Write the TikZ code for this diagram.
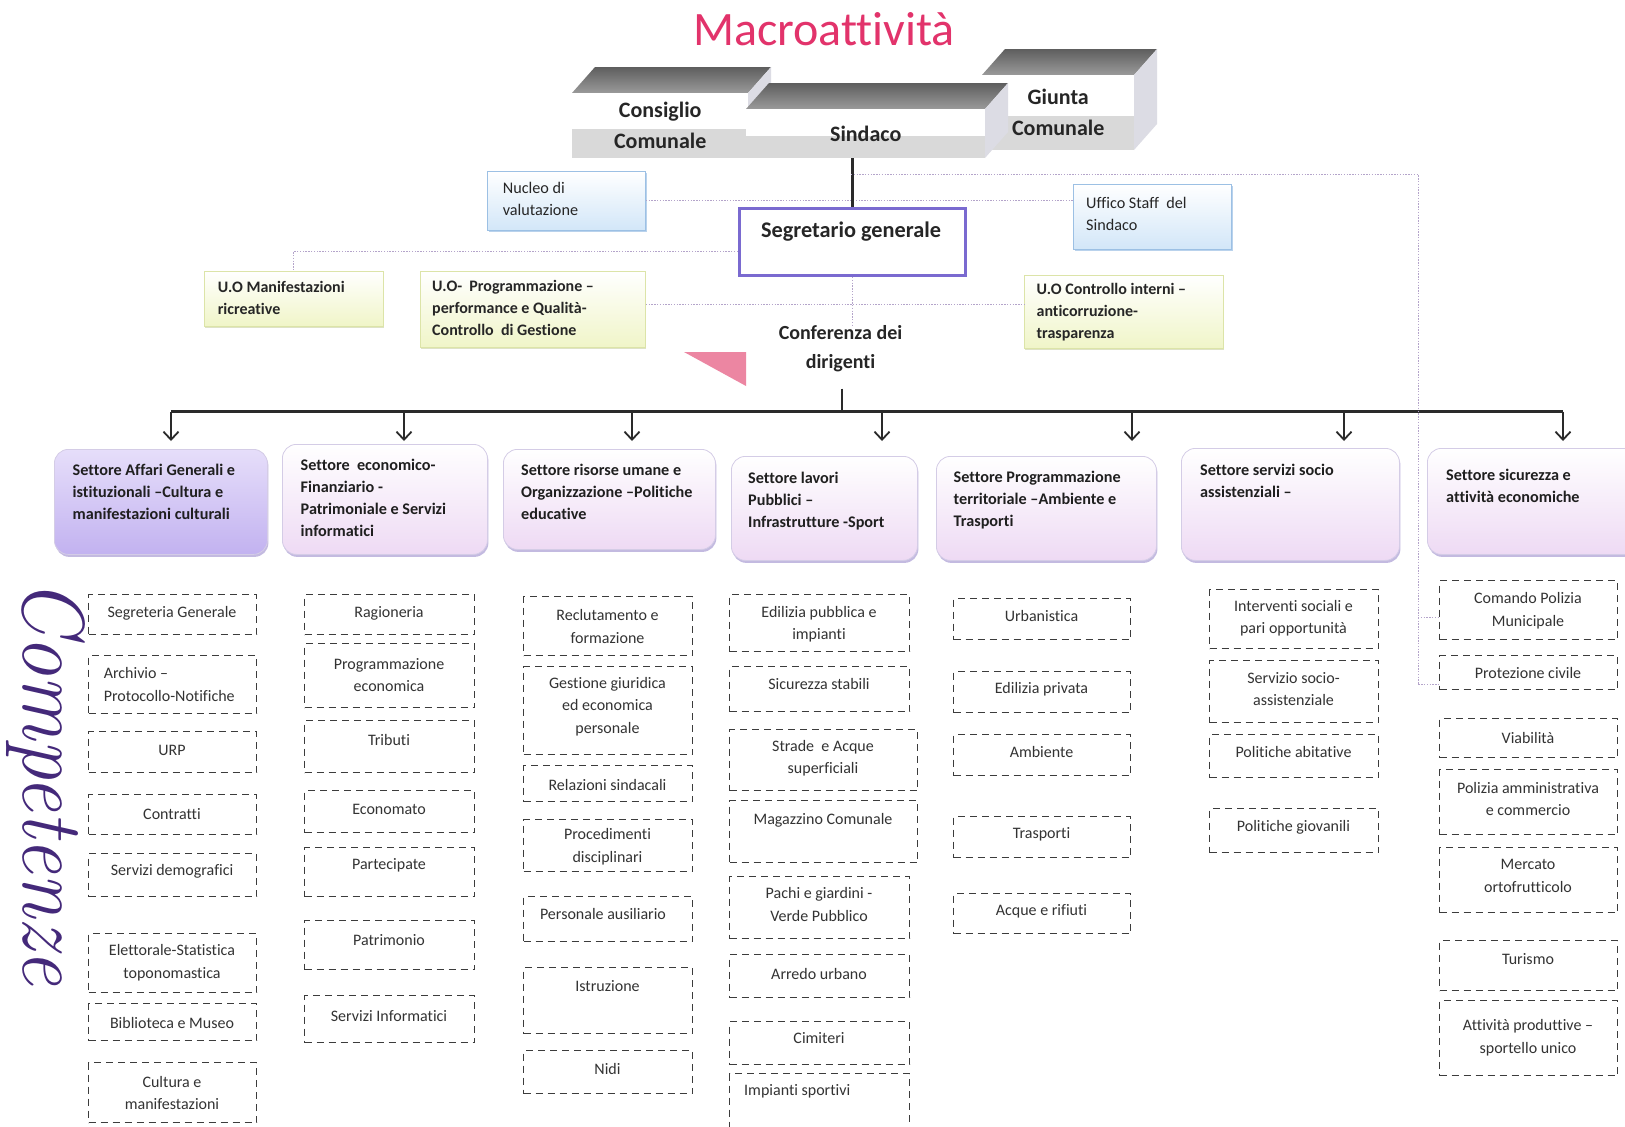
\documentclass[tikz,border=0pt]{standalone}
\usepackage{fontspec}
\newfontfamily\carlito[Ligatures={NoCommon}]{Carlito}
\usetikzlibrary{arrows.meta,shadows}
\definecolor{titlecol}{HTML}{E2336B}
\definecolor{dashgray}{HTML}{3C3C3C}
\definecolor{textgray}{HTML}{333333}
\definecolor{setborder}{HTML}{D4CCE6}
\definecolor{setpink}{HTML}{EEDAF4}
\definecolor{setonetop}{HTML}{E6DEFA}
\definecolor{setonebot}{HTML}{C2B2F0}
\definecolor{setshadow}{HTML}{9C8CCC}
\definecolor{nucbot}{HTML}{D2E6F8}
\definecolor{nucborder}{HTML}{9CC0E4}
\definecolor{uobot}{HTML}{F0F5C8}
\definecolor{uoborder}{HTML}{DCE4A8}
\definecolor{segcol}{HTML}{7A6AD0}
\definecolor{dotcol}{HTML}{B4A4CA}
\definecolor{compcol}{HTML}{44297A}
\definecolor{topdark}{HTML}{5E5E5E}
\definecolor{toplight}{HTML}{9A9A9A}
\definecolor{sidegray}{HTML}{DCDCE4}
\definecolor{frontgray}{HTML}{D9D9D9}
\definecolor{wedge}{HTML}{EC86A2}
\definecolor{linecol}{HTML}{2A2A2A}

\newcommand\Dbox[9][]{%
  \node[dbox, minimum width={#5-#3}, minimum height={#6-#4}] (#2) at (#3,#4) {};
  \node[dtext,#1] (#2t) at (#7,#8) {#9};}
\newcommand\Sbox[9]{%
  \node[settbox,#6, minimum width={#4-#2}, minimum height={#5-#3}] (#1) at (#2,#3) {};
  \node[setttext] (#1t) at (#7,#8) {#9};}
\newcommand\Tbox[6]{%
  \shade[top color=topdark, bottom color=toplight] (#2,#3) -- ({#2+23},{#3-26}) -- ({#4+23},{#3-26}) -- (#4,#3) -- cycle;
  \fill[sidegray] (#4,#3) -- ({#4+23},{#3-26}) -- ({#4+23},{#5-26}) -- (#4,#5) -- cycle;
  \fill[white] (#2,#3) rectangle (#4,#5);
  \fill[frontgray] (#2,{#3+0.55*(#5-#3)}) rectangle (#4,#5);
  \node[tbox, minimum width={#4-#2}, minimum height={#5-#3}] (#1) at (#2,#3) {#6};}

\begin{document}
\begin{tikzpicture}[x=1pt,y=-1pt,
  dbox/.style={draw=dashgray, dash pattern=on 7pt off 5pt, line width=1.3pt, inner sep=0pt, anchor=north west},
  dtext/.style={font=\carlito\fontsize{16}{22.5}\selectfont, text=textgray, align=center, inner sep=0pt},
  settbox/.style={rounded corners=14pt, draw=setborder, line width=0.8pt, inner sep=0pt, anchor=north west,
     drop shadow={shadow xshift=1pt, shadow yshift=-2.5pt, fill=setshadow, opacity=0.6}},
  setplain/.style={top color=white, bottom color=setpink},
  setone/.style={top color=setonetop, bottom color=setonebot},
  setttext/.style={font=\carlito\bfseries\fontsize{16.2}{22}\selectfont, align=left, anchor=north west, inner sep=0pt, text=black!88},
  tbox/.style={inner sep=0pt, anchor=north west, align=center, font=\carlito\bfseries\fontsize{22}{31}\selectfont, text=black!85},
  nucbox/.style={draw=nucborder, line width=0.8pt, top color=white, bottom color=nucbot, anchor=north west, inner sep=0pt,
     drop shadow={shadow xshift=1.5pt, shadow yshift=-2pt, fill=nucborder, opacity=0.7}},
  uobox/.style={draw=uoborder, line width=0.8pt, top color=white, bottom color=uobot, anchor=north west, inner sep=0pt,
     drop shadow={shadow xshift=1pt, shadow yshift=-2pt, fill=uoborder!80!gray, opacity=0.6}},
  smtext/.style={font=\carlito\fontsize{16.2}{22.5}\selectfont, align=left, anchor=west, inner sep=0pt, text=black!85},
  smbold/.style={smtext, font=\carlito\bfseries\fontsize{16}{22}\selectfont},
  dotl/.style={draw=dotcol, line width=0.9pt, dash pattern=on 1.4pt off 1.4pt},
  bus/.style={draw=linecol, line width=2.2pt},
  arr/.style={draw=linecol, line width=1.8pt, -{Straight Barb[length=8pt,width=15pt]}}
]
\useasboundingbox (0,0) rectangle (1625,1127);
\clip (0,0) rectangle (1625,1127);
\fill[white] (0,0) rectangle (1625,1127);

% title
\node[font=\carlito\fontsize{48}{48}\selectfont, text=titlecol, inner sep=0pt] (title) at (824,29) {Macroattività};

% 3D boxes
\Tbox{cons}{572}{93}{748}{158}{Consiglio\\Comunale}
\Tbox{giun}{982}{75}{1134}{150}{Giunta\\Comunale}
\Tbox{sind}{746}{109}{985}{158}{Sindaco}

% staff boxes
\node[nucbox, minimum width=158, minimum height=59] (nuc) at (487,171) {};
\node[smtext] (nuct) at (502.6,199) {Nucleo di\\valutazione};
\node[nucbox, minimum width=158, minimum height=65] (uff) at (1073,184) {};
\node[smtext] (ufft) at (1086,214) {Uffico Staff\ \ del\\Sindaco};
\node[uobox, minimum width=179, minimum height=55] (uom) at (204,271) {};
\node[smbold] (uomt) at (217.6,298) {U.O Manifestazioni\\ricreative};
\node[uobox, minimum width=225, minimum height=76] (uop) at (420,271) {};
\node[smbold] (uopt) at (432,308) {U.O-\ \ Programmazione –\\performance e Qualità-\\Controllo\ \ di Gestione};
\node[uobox, minimum width=199, minimum height=73] (uoc) at (1024,275) {};
\node[smbold] (uoct) at (1036.4,312) {U.O Controllo interni –\\anticorruzione-\\trasparenza};

% segretario
\node[draw=segcol, line width=3pt, fill=white, minimum width=226, minimum height=67, anchor=north west, inner sep=0pt] (seg) at (738,207) {};
\node[font=\carlito\bfseries\fontsize{22.3}{26}\selectfont, text=black!85, inner sep=0pt] (segt) at (851,232) {Segretario generale};

% conferenza
\fill[wedge] (684,352) -- (746,352) -- (746,386) -- cycle;
\node[font=\carlito\bfseries\fontsize{20}{29}\selectfont, align=center, text=black!85, inner sep=0pt] (conf) at (840.5,348.5) {Conferenza dei\\dirigenti};

% dotted connectors
\coordinate (j1) at (851,174);
\coordinate (k1) at (1418,174);
\draw[dotl] (nuc.east) -- (nuc.east -| uff.west);
\draw[dotl] ([yshift=-9pt]seg.west) -| (uom.north);
\draw[dotl] ([yshift=5pt]uop.east) -- ([yshift=5pt]uop.east -| uoc.west);
\draw[dotl] (seg.south) -- (seg.south |- conf.north);

% main lines
\draw[bus] (seg.north |- sind.south) -- (seg.north);
\coordinate (a1) at (171,411.5);
\coordinate (a2) at (404,411.5);
\coordinate (a3) at (632,411.5);
\coordinate (a4) at (882,411.5);
\coordinate (a5) at (1132,411.5);
\coordinate (a6) at (1344,411.5);
\coordinate (a7) at (1563,411.5);
\coordinate (tip) at (0,441);
\coordinate (cb) at (841.6,388.6);
\draw[bus] (cb) -- (cb |- a1);
\draw[bus] (a1) -- (a7);
\foreach \i in {1,...,7} \draw[arr] (a\i) -- (a\i |- tip);

% settori
\Sbox{s1}{54}{449}{267}{554}{setone}{72.5}{464}{Settore Affari Generali e\\istituzionali –Cultura e\\manifestazioni culturali}
\Sbox{s2}{282}{444}{487}{554}{setplain}{300.5}{459}{Settore\ \ economico-\\Finanziario -\\Patrimoniale e Servizi\\informatici}
\Sbox{s3}{503}{449}{715}{549}{setplain}{521}{463.5}{Settore risorse umane e\\Organizzazione –Politiche\\educative}
\Sbox{s4}{731}{456}{917}{560}{setplain}{748}{472}{Settore lavori\\Pubblici –\\Infrastrutture -Sport}
\Sbox{s5}{936}{456}{1156}{560}{setplain}{953.5}{471}{Settore Programmazione\\territoriale –Ambiente e\\Trasporti}
\Sbox{s6}{1181}{448}{1399}{560}{setplain}{1200}{463.5}{Settore servizi socio\\assistenziali –}
\Sbox{s7}{1427}{448}{1660}{554}{setplain}{1446}{469}{Settore sicurezza e\\attività economiche}

% competenze label
\node[rotate=-90, font=\itshape\fontsize{80}{80}\selectfont, text=compcol, inner sep=0pt] (comp) at (46,782) {\scalebox{1}[1.1]{Competenze}};

% column 1
\Dbox{a1b}{88}{594}{256}{634}{172}{613.5}{Segreteria Generale}
\Dbox[anchor=west, align=left]{a2b}{88}{655}{256}{713}{103.6}{684.5}{Archivio –\\Protocollo-Notifiche}
\Dbox{a3b}{88}{731}{256}{772}{172}{750}{URP}
\Dbox{a4b}{88}{794}{256}{834}{172}{813.6}{Contratti}
\Dbox{a5b}{88}{853}{256}{896}{172}{871.6}{Servizi demografici}
\Dbox{a6b}{88}{933}{256}{992}{172}{962.8}{Elettorale-Statistica\\toponomastica}
\Dbox{a7b}{88}{1003}{256}{1040}{172}{1023}{Biblioteca e Museo}
\Dbox{a8b}{88}{1062}{256}{1122}{172}{1093}{Cultura e\\manifestazioni}

% column 2
\Dbox{b1}{304}{594}{474}{634}{389}{613.5}{Ragioneria}
\Dbox{b2}{304}{643}{474}{707}{389}{675}{Programmazione\\economica}
\Dbox{b3}{304}{720}{474}{772}{389}{740}{Tributi}
\Dbox{b4}{304}{790}{474}{832}{389}{809}{Economato}
\Dbox{b5}{304}{847}{474}{896}{389}{865}{Partecipate}
\Dbox{b6}{304}{920}{474}{969}{389}{940}{Patrimonio}
\Dbox{b7}{304}{995}{474}{1042}{389}{1015.6}{Servizi Informatici}

% column 3
\Dbox{c1}{523}{596}{692}{655}{607.5}{626.5}{Reclutamento e\\formazione}
\Dbox{c2}{523}{666}{692}{754}{607.5}{706.6}{Gestione giuridica\\ed economica\\personale}
\Dbox{c3}{523}{765}{692}{801}{607.5}{784.6}{Relazioni sindacali}
\Dbox{c4}{523}{819}{692}{871}{607.5}{846.7}{Procedimenti\\disciplinari}
\Dbox{c5}{523}{896}{692}{941}{603}{914}{Personale ausiliario}
\Dbox{c6}{523}{967}{692}{1033}{607.5}{985.6}{Istruzione}
\Dbox{c7}{523}{1050}{692}{1093}{607.5}{1068.5}{Nidi}

% column 4
\Dbox{d1}{729}{594}{909}{651}{819}{624}{Edilizia pubblica e\\impianti}
\Dbox{d2}{729}{666}{909}{711}{819}{684}{Sicurezza stabili}
\Dbox{d3}{729}{729}{917}{790}{823}{758}{Strade\ \ e Acque\\superficiali}
\Dbox{d4}{729}{800}{917}{862}{823}{820}{Magazzino Comunale}
\Dbox{d5}{729}{876}{909}{938}{819}{904.7}{Pachi e giardini -\\Verde Pubblico}
\Dbox{d6}{729}{954}{909}{997}{819}{974}{Arredo urbano}
\Dbox{d7}{729}{1021}{909}{1064}{819}{1038.5}{Cimiteri}
\Dbox[anchor=west]{d8}{729}{1073}{909}{1145}{744}{1091}{Impianti sportivi}

% column 5
\Dbox{e1}{953}{598}{1130}{639}{1041.5}{615.6}{Urbanistica}
\Dbox{e2}{953}{671}{1130}{712}{1041.5}{689}{Edilizia privata}
\Dbox{e3}{953}{734}{1130}{775}{1041.5}{752.4}{Ambiente}
\Dbox{e4}{953}{816}{1130}{857}{1041.5}{834.3}{Trasporti}
\Dbox{e5}{953}{893}{1130}{933}{1041.5}{911}{Acque e rifiuti}

% column 6
\Dbox{f1}{1209}{589}{1378}{648}{1293.5}{618}{Interventi sociali e\\pari opportunità}
\Dbox{f2}{1209}{660}{1378}{722}{1293.5}{689}{Servizio socio-\\assistenziale}
\Dbox{f3}{1209}{734}{1378}{777}{1293.5}{752.4}{Politiche abitative}
\Dbox{f4}{1209}{808}{1378}{852}{1293.5}{827}{Politiche giovanili}

% column 7
\Dbox{g1}{1439}{580}{1617}{639}{1528}{610.5}{Comando Polizia\\Municipale}
\Dbox{g2}{1439}{655}{1617}{689}{1528}{672.6}{Protezione civile}
\Dbox{g3}{1439}{718}{1617}{757}{1528}{738}{Viabilità}
\Dbox{g4}{1439}{769}{1617}{834}{1528}{799}{Polizia amministrativa\\e commercio}
\Dbox{g5}{1439}{847}{1617}{912}{1528}{875.7}{Mercato\\ortofrutticolo}
\Dbox{g6}{1439}{940}{1617}{990}{1528}{958.7}{Turismo}
\Dbox{g7}{1439}{1000}{1617}{1075}{1528}{1037.5}{Attività produttive –\\sportello unico}

% dotted link from Sindaco to Polizia / Protezione
\coordinate (g1s) at ([yshift=-7pt]g1.west);
\coordinate (g2s) at ([yshift=-12pt]g2.west);
\draw[dotl] (j1) -- (k1) -- (k1 |- g2s) -- (g2s);
\draw[dotl] (k1 |- g1s) -- (g1s);
\end{tikzpicture}
\end{document}
